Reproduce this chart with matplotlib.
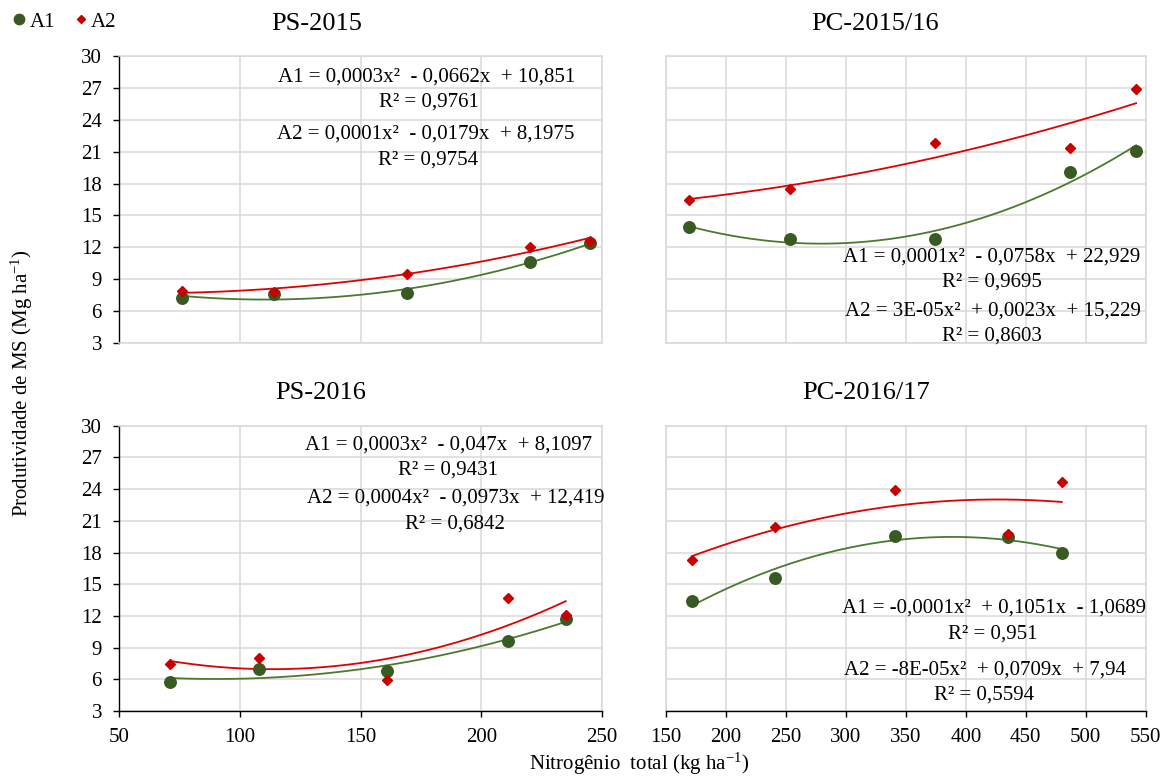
import matplotlib
matplotlib.use('Agg')
import matplotlib.pyplot as plt
import numpy as np

plt.rcParams['font.family'] = ['Liberation Serif', 'DejaVu Serif']
plt.rcParams['mathtext.fontset'] = 'custom'
plt.rcParams['mathtext.rm'] = 'Liberation Serif'
plt.rcParams['mathtext.it'] = 'Liberation Serif:italic'

# ---------------- data ----------------
titles = ["PS-2015", "PC-2015/16", "PS-2016", "PC-2016/17"]

x_ps2015 = [76, 114, 169, 220, 245]
a1_ps2015 = [7.2, 7.6, 7.7, 10.6, 12.4]
a2_ps2015 = [7.9, 7.8, 9.5, 12.0, 12.6]

x_pc2015 = [169, 253, 374, 487, 542]
a1_pc2015 = [13.9, 12.8, 12.8, 19.1, 21.1]
a2_pc2015 = [16.5, 17.5, 21.85, 21.35, 26.85]

x_ps2016 = [71, 108, 161, 211, 235]
a1_ps2016 = [5.7, 7.0, 6.8, 9.6, 11.7]
a2_ps2016 = [7.45, 8.05, 5.9, 13.65, 12.1]

x_pc2016 = [172, 241, 341, 435, 480]
a1_pc2016 = [13.4, 15.6, 19.6, 19.5, 18.0]
a2_pc2016 = [17.3, 20.4, 23.9, 19.75, 24.7]

eq_ps2015 = ["A1 = 0,0003x²  - 0,0662x  + 10,851", "R² = 0,9761",
             "A2 = 0,0001x²  - 0,0179x  + 8,1975", "R² = 0,9754"]
eq_pc2015 = ["A1 = 0,0001x²  - 0,0758x  + 22,929", "R² = 0,9695",
             "A2 = 3E-05x²  + 0,0023x  + 15,229", "R² = 0,8603"]
eq_ps2016 = ["A1 = 0,0003x²  - 0,047x  + 8,1097", "R² = 0,9431",
             "A2 = 0,0004x²  - 0,0973x  + 12,419", "R² = 0,6842"]
eq_pc2016 = ["A1 = -0,0001x²  + 0,1051x  - 1,0689", "R² = 0,951",
             "A2 = -8E-05x²  + 0,0709x  + 7,94", "R² = 0,5594"]

series_labels = ["A1", "A2"]
y_ticks = [3, 6, 9, 12, 15, 18, 21, 24, 27, 30]
x_ticks_ps = [50, 100, 150, 200, 250]
x_ticks_pc = [150, 200, 250, 300, 350, 400, 450, 500, 550]

y_label = "Produtividade de MS (Mg ha$^{-1}$)"
x_label = "Nitrogênio  total (kg ha$^{-1}$)"

# ---------------- style ----------------
W, H = 1168, 779
C_A1_M = '#3a5a24'
C_A1_L = '#4b7a2e'
C_A2_M = '#c80000'
C_A2_L = '#e00000'
GRID = '#d9d9d9'
FS = 15

fig = plt.figure(figsize=(W / 100, H / 100), dpi=100)


def fx(px):
    return px / W


def fy(py):
    return 1 - py / H


def axes_px(l, t, r, b):
    return [fx(l), fy(b), fx(r) - fx(l), fy(t) - fy(b)]


panels = [
    dict(x=x_ps2015, a1=a1_ps2015, a2=a2_ps2015, xlim=(50, 250), xt=x_ticks_ps,
         pos=axes_px(119.3, 56, 602, 343), left=True, bottom=False,
         title=titles[0], tpos=(317, 30), eq=eq_ps2015,
         eqpos=[(427, 77), (429, 102), (426, 134.5), (428, 159.6)]),
    dict(x=x_pc2015, a1=a1_pc2015, a2=a2_pc2015, xlim=(150, 550), xt=x_ticks_pc,
         pos=axes_px(666, 56, 1145.7, 343), left=False, bottom=False,
         title=titles[1], tpos=(875, 30), eq=eq_pc2015,
         eqpos=[(992, 257), (992, 282), (993, 311), (992, 336)]),
    dict(x=x_ps2016, a1=a1_ps2016, a2=a2_ps2016, xlim=(50, 250), xt=x_ticks_ps,
         pos=axes_px(119.3, 425.7, 602, 711), left=True, bottom=True,
         title=titles[2], tpos=(321, 399), eq=eq_ps2016,
         eqpos=[(449, 445), (448, 470), (455.7, 498), (455, 524)]),
    dict(x=x_pc2016, a1=a1_pc2016, a2=a2_pc2016, xlim=(150, 550), xt=x_ticks_pc,
         pos=axes_px(666, 425.7, 1145.7, 711), left=False, bottom=True,
         title=titles[3], tpos=(866, 399), eq=eq_pc2016,
         eqpos=[(993.5, 608), (992.5, 634), (985, 670.5), (984.5, 695.5)]),
]

handles = None
for p in panels:
    ax = fig.add_axes(p['pos'])
    ax.set_xlim(*p['xlim'])
    ax.set_ylim(3, 30)
    ax.set_yticks(y_ticks)
    ax.set_xticks(p['xt'])
    ax.grid(True, color=GRID, lw=1.1)
    ax.set_axisbelow(True)
    for s in ax.spines.values():
        s.set_color(GRID)
        s.set_linewidth(1.1)
    ax.tick_params(axis='both', direction='out', length=4.5, width=1.0,
                   pad=8.0, labelsize=FS, color='black')
    if p['left']:
        ax.spines['left'].set_color('black')
        ax.spines['left'].set_linewidth(1.0)
    else:
        ax.tick_params(axis='y', length=0, labelleft=False)
    if p['bottom']:
        ax.spines['bottom'].set_color('black')
        ax.spines['bottom'].set_linewidth(1.0)
    else:
        ax.tick_params(axis='x', length=0, labelbottom=False)

    x = np.array(p['x'], dtype=float)
    xs = np.linspace(x.min(), x.max(), 300)
    for yv, cl in ((p['a1'], C_A1_L), (p['a2'], C_A2_L)):
        coef = np.polyfit(x, np.array(yv, dtype=float), 2)
        ax.plot(xs, np.polyval(coef, xs), color=cl, lw=1.3, zorder=3,
                clip_on=False)
    h1, = ax.plot(x, p['a1'], 'o', ls='none', color=C_A1_M, ms=8.3, zorder=4,
                  clip_on=False, label=series_labels[0])
    h2, = ax.plot(x, p['a2'], 'D', ls='none', color=C_A2_M, ms=5.0, zorder=5,
                  clip_on=False, label=series_labels[1])
    if handles is None:
        handles = [h1, h2]

    fig.text(fx(p['tpos'][0]), fy(p['tpos'][1]), p['title'], fontsize=19,
             ha='center', va='baseline')
    for txt, (px, py) in zip(p['eq'], p['eqpos']):
        fig.text(fx(px), fy(py), txt, fontsize=FS, ha='center', va='center')

fig.text(fx(22), fy(383), y_label, fontsize=FS, rotation=90,
         ha='center', va='center')
fig.text(fx(639), fy(770), x_label, fontsize=FS, ha='center', va='baseline')

fig.legend(handles, series_labels, loc='upper left',
           bbox_to_anchor=(fx(12), fy(12)), ncol=2, frameon=False,
           fontsize=FS, handlelength=0.7, handletextpad=0.15,
           columnspacing=0.87, borderaxespad=0, borderpad=0,
           markerscale=0.9)

fig.savefig('out.png', dpi=100)
